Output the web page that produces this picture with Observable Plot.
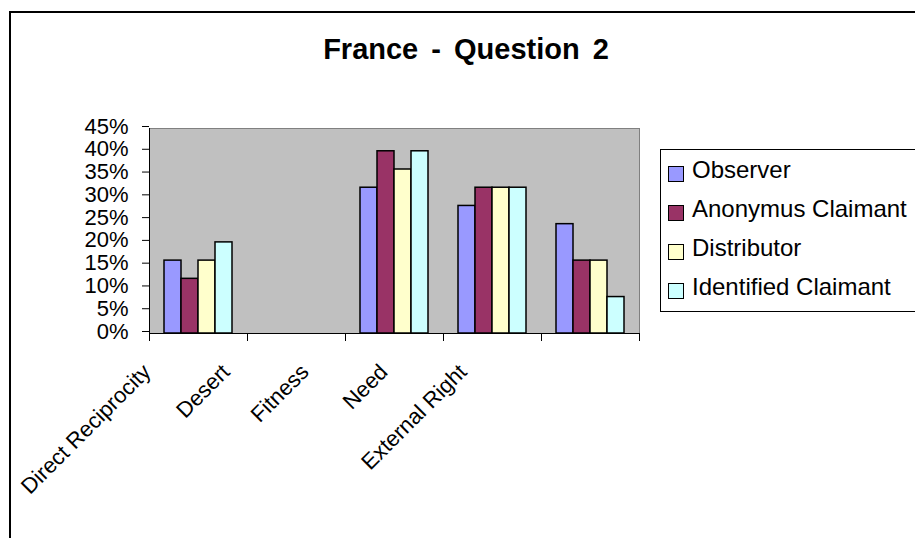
<!DOCTYPE html>
<html>
<head>
<meta charset="utf-8">
<script src="https://cdn.jsdelivr.net/npm/d3@7"></script>
<script src="https://cdn.jsdelivr.net/npm/@observablehq/plot@0.6"></script>
<style>
  html, body { margin: 0; padding: 0; background: #fff; }
  body { width: 915px; height: 538px; overflow: hidden; position: relative; font-family: "Liberation Sans", Arial, sans-serif; color: #000; }
  #border { position: absolute; left: 9px; top: 11px; width: 1000px; height: 1000px; border: 2px solid #000; box-sizing: border-box; }
  #title { position: absolute; left: 0; width: 932px; top: 35px; text-align: center; font-size: 29px; line-height: 28px; font-weight: bold; word-spacing: 5px; }
  #chart, #labels { position: absolute; left: 0; top: 0; }
  #legend { position: absolute; left: 660px; top: 149px; width: 700px; height: 163px; border: 1px solid #000; box-sizing: border-box; background: #fff; }
  .row { position: absolute; left: 0; }
  .sw { position: absolute; left: 7px; width: 16px; height: 16px; box-sizing: border-box; border: 1.5px solid #000; }
  .lt { position: absolute; left: 31px; font-size: 24px; line-height: 24px; white-space: nowrap; }
</style>
</head>
<body>
<div id="border"></div>
<div id="title">France - Question 2</div>
<div id="chart"></div>
<div id="labels"></div>
<div id="legend"></div>
<script>
const categories = ["Direct Reciprocity", "Desert", "Fitness", "Need", "External Right"];
const series = ["Observer", "Anonymus Claimant", "Distributor", "Identified Claimant"];
const observer = [0.16, 0, 0.32, 0.28, 0.24];
const anonymus = [0.12, 0, 0.40, 0.32, 0.16];
const distributor = [0.16, 0, 0.36, 0.32, 0.16];
const identified = [0.20, 0, 0.40, 0.32, 0.08];
const colors = ["#9999FF", "#993366", "#FFFFCC", "#CCFFFF"];
const yTicks = [0, 0.05, 0.10, 0.15, 0.20, 0.25, 0.30, 0.35, 0.40, 0.45];

const valuesBySeries = [observer, anonymus, distributor, identified];
const table = [];
categories.forEach((c, i) => {
  series.forEach((s, k) => {
    table.push({category: c, series: s, value: valuesBySeries[k][i]});
  });
});

const W = 915, H = 538;
const mL = 149, mR = 276, mT = 128, mB = 205;
const plotH = H - mT - mB;
const font = "'Liberation Sans', Arial, sans-serif";

const chart = Plot.plot({
  width: W, height: H,
  marginLeft: mL, marginRight: mR, marginTop: mT, marginBottom: mB,
  style: {fontFamily: font, background: "transparent", overflow: "visible", color: "#000"},
  fx: {domain: categories, padding: 0, label: null, axis: null},
  x: {domain: series, paddingInner: 0, paddingOuter: 0.75, axis: null},
  y: {domain: [0, 0.45], axis: null},
  color: {domain: series, range: colors},
  marks: [
    Plot.frame({fill: "#C0C0C0", stroke: "#808080", facet: "super"}),
    Plot.barY(table, {fx: "category", x: "series", y: "value", fill: "series", stroke: "#000", strokeWidth: 1.5, filter: d => d.value > 0}),
    Plot.ruleY([0], {stroke: "#000"}),
    Plot.frame({anchor: "left", stroke: "#000", facet: "super"}),
    Plot.frame({anchor: "left", stroke: "#000", insetTop: plotH, insetBottom: -7}),
    Plot.frame({anchor: "right", stroke: "#000", insetTop: plotH, insetBottom: -7, facetAnchor: "right"}),
    Plot.axisY({ticks: yTicks, tickFormat: d3.format(".0%"), tickSize: 7, tickPadding: 14, fontSize: 22, label: null, dy: -2})
  ]
});
document.getElementById("chart").appendChild(chart);

// Category labels: Excel spaces its rotated labels more tightly than the bands
const labels = Plot.plot({
  width: W, height: H,
  marginLeft: mL, marginRight: W - mL - 395, marginTop: mT, marginBottom: mB,
  style: {fontFamily: font, background: "transparent", overflow: "visible", color: "#000"},
  x: {type: "band", domain: categories, padding: 0, label: null},
  marks: [
    Plot.axisX({anchor: "bottom", tickRotate: -45, tickSize: 0, fontSize: 22, label: null, dx: -42, dy: 23})
  ]
});
document.getElementById("labels").appendChild(labels);

const legend = d3.select("#legend");
series.forEach((s, i) => {
  const row = legend.append("div").attr("class", "row").style("top", (39 * i) + "px");
  row.append("div").attr("class", "sw").style("top", "16px").style("background", colors[i]);
  row.append("div").attr("class", "lt").style("top", "8px").text(s);
});
</script>
</body>
</html>
